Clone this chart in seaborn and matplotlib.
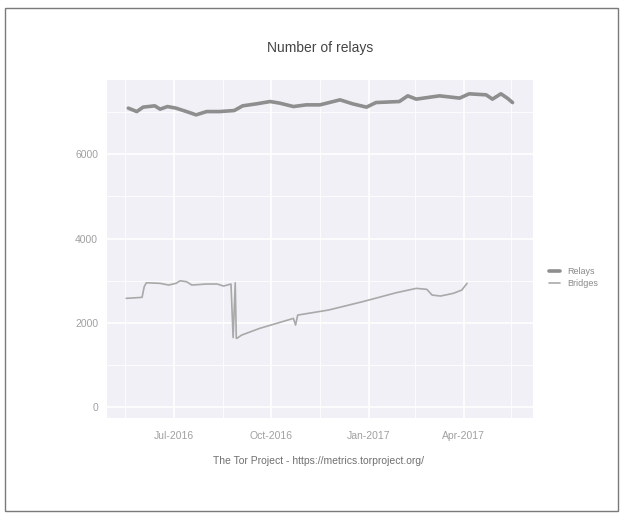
import pandas as pd
import numpy as np
import matplotlib.pyplot as plt
import matplotlib.dates as mdates
from matplotlib.patches import Rectangle
import seaborn as sns

# values
relay_dates = ["2016-05-19", "2016-05-27", "2016-06-02", "2016-06-13", "2016-06-18",
               "2016-06-25", "2016-07-03", "2016-07-13", "2016-07-22", "2016-08-01",
               "2016-08-13", "2016-08-27", "2016-09-04", "2016-09-17", "2016-09-30",
               "2016-10-09", "2016-10-22", "2016-11-03", "2016-11-16", "2016-12-05",
               "2016-12-17", "2016-12-30", "2017-01-08", "2017-01-30", "2017-02-07",
               "2017-02-15", "2017-03-09", "2017-03-28", "2017-04-06", "2017-04-22",
               "2017-04-28", "2017-05-06", "2017-05-12", "2017-05-17"]
relay_counts = [7095, 7014, 7119, 7150, 7071, 7133, 7095, 7014, 6936, 7014,
                7014, 7038, 7150, 7197, 7252, 7214, 7133, 7173, 7173, 7292,
                7197, 7119, 7228, 7252, 7387, 7309, 7387, 7333, 7435, 7411,
                7309, 7435, 7333, 7228]

bridge_dates = ["2016-05-17", "2016-06-01", "2016-06-03", "2016-06-05", "2016-06-18",
                "2016-06-26", "2016-07-03", "2016-07-07", "2016-07-13", "2016-07-18",
                "2016-08-01", "2016-08-11", "2016-08-17", "2016-08-24", "2016-08-26",
                "2016-08-28", "2016-08-29", "2016-08-30", "2016-09-03", "2016-09-20",
                "2016-10-22", "2016-10-24", "2016-10-26", "2016-11-24", "2016-12-26",
                "2017-01-27", "2017-02-15", "2017-02-25", "2017-03-02", "2017-03-10",
                "2017-03-22", "2017-03-30", "2017-04-04"]
bridge_counts = [2582, 2606, 2857, 2952, 2938, 2898, 2938, 3000, 2976, 2898,
                 2922, 2922, 2874, 2922, 1650, 2952, 1632, 1640, 1710, 1869,
                 2107, 1948, 2185, 2304, 2501, 2715, 2819, 2796, 2660, 2637,
                 2701, 2779, 2938]

y_ticks = [0, 2000, 4000, 6000]
x_ticks = ["2016-07-01", "2016-10-01", "2017-01-01", "2017-04-01"]
x_labels = ["Jul-2016", "Oct-2016", "Jan-2017", "Apr-2017"]

df = pd.concat([
    pd.DataFrame({"date": pd.to_datetime(relay_dates), "count": relay_counts, "kind": "Relays"}),
    pd.DataFrame({"date": pd.to_datetime(bridge_dates), "count": bridge_counts, "kind": "Bridges"}),
])

sns.set_style("white")
plt.rcParams["font.family"] = ["Liberation Sans", "DejaVu Sans"]

fig = plt.figure(figsize=(6.23, 5.15), dpi=100)
ax = fig.add_axes([0.172, 0.188, 0.683, 0.657])
ax.set_facecolor("#f1f0f6")

sns.lineplot(data=df[df.kind == "Relays"], x="date", y="count", ax=ax,
             color="#8e8e8e", linewidth=2.6, label="Relays")
sns.lineplot(data=df[df.kind == "Bridges"], x="date", y="count", ax=ax,
             color="#a9a9a9", linewidth=1.2, label="Bridges")

ax.set_xlim(pd.Timestamp("2016-04-29"), pd.Timestamp("2017-06-05"))
ax.set_ylim(-261, 7767)

ax.set_xticks(pd.to_datetime(x_ticks))
ax.set_xticklabels(x_labels)
ax.set_xticks(pd.to_datetime(["2016-05-16", "2016-08-16", "2016-11-16", "2017-02-14", "2017-05-16"]), minor=True)
ax.set_yticks(y_ticks)
ax.set_yticks([1000, 3000, 5000, 7000], minor=True)
ax.grid(True, which="major", color="white", linewidth=1.2)
ax.grid(True, which="minor", color="white", linewidth=0.6)
ax.tick_params(which="major", length=3, color="#b5b5b5", labelsize=7.5, labelcolor="#a0a0a0")
ax.tick_params(axis="x", which="major", pad=6)
ax.tick_params(which="minor", length=0)
for s in ax.spines.values():
    s.set_visible(False)
ax.set_xlabel("")
ax.set_ylabel("")

ax.set_title("Number of relays", fontsize=10, color="#444444", pad=20)

leg = ax.legend(loc="center left", bbox_to_anchor=(1.02, 0.415), frameon=False,
                fontsize=6.5, handlelength=1.2, labelspacing=0.3)
for t in leg.get_texts():
    t.set_color("#8a8a8a")

fig.text(0.511, 0.105, "The Tor Project - https://metrics.torproject.org/",
         ha="center", va="center", fontsize=7.5, color="#707070")

# frame around the scanned page
fig.patches.append(Rectangle((0.008, 0.008), 0.984, 0.976, transform=fig.transFigure,
                             fill=False, edgecolor="#7a7a7a", linewidth=1.0))

fig.savefig("out.png", dpi=100)
